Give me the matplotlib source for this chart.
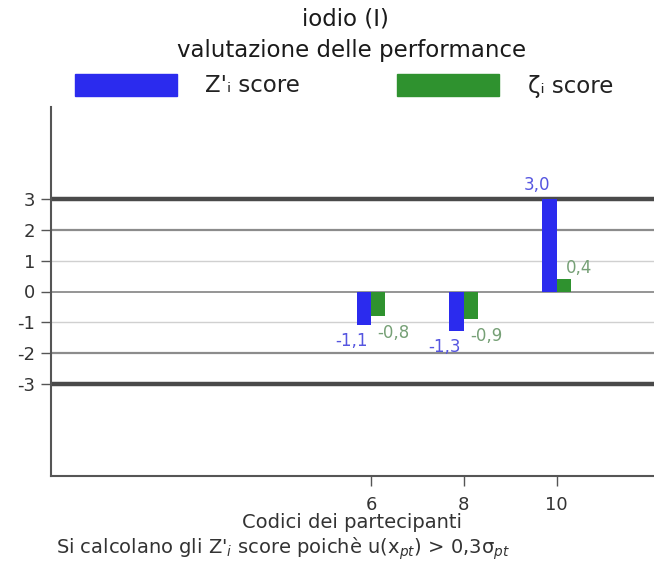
import matplotlib
matplotlib.use("Agg")
import matplotlib.pyplot as plt
from matplotlib.patches import Rectangle

# Participant codes and their scores
participants = [6, 8, 10]
z_prime = [-1.1, -1.3, 3.0]
zeta = [-0.8, -0.9, 0.4]
y_ticks = [-3, -2, -1, 0, 1, 2, 3]

title_lines = ["iodio (I)", "valutazione delle performance"]
legend_labels = ["Z'\u1d62 score", "\u03b6\u1d62 score"]
x_label = "Codici dei partecipanti"
footnote = r"Si calcolano gli Z'$_i$ score poichè u(x$_{pt}$) > 0,3σ$_{pt}$"

blue = "#2b2bee"
green = "#2f922f"
blue_txt = "#5555e0"
green_txt = "#76a076"
txt = "#333333"

plt.rcParams["font.family"] = ["DejaVu Sans"]

W, H = 654, 569
fig = plt.figure(figsize=(W / 100, H / 100), dpi=100)
ax = fig.add_axes([51 / W, 1 - 476 / H, (W - 51) / W, (476 - 107) / H])

ax.set_xlim(-0.9, 12.1)
ax.set_ylim(-6, 6)

# reference levels
for lv in y_ticks:
    a = abs(lv)
    if a == 3:
        ax.axhline(lv, color="#4a4a4a", lw=3.2, zorder=1)
    elif a == 2:
        ax.axhline(lv, color="#8c8c8c", lw=1.6, zorder=1)
    elif a == 0:
        ax.axhline(lv, color="#8c8c8c", lw=1.3, zorder=1)
    else:
        ax.axhline(lv, color="#d0d0d0", lw=1.0, zorder=1)

bw = 0.31
xs = participants
ax.bar([x - bw / 2 for x in xs], z_prime, width=bw, color=blue, zorder=3)
ax.bar([x + bw / 2 for x in xs], zeta, width=bw, color=green, zorder=3)

lab_size = 12
for x, v in zip(xs, z_prime):
    dy = 10 if v >= 0 else -11
    ax.annotate(f"{v:.1f}".replace(".", ","), (x - bw / 2, v), xytext=(-9, dy),
                textcoords="offset points", ha="center", va="center",
                color=blue_txt, fontsize=lab_size, zorder=4)
for x, v in zip(xs, zeta):
    dy = 8 if v >= 0 else -12
    ax.annotate(f"{v:.1f}".replace(".", ","), (x + bw / 2, v), xytext=(11, dy),
                textcoords="offset points", ha="center", va="center",
                color=green_txt, fontsize=lab_size, zorder=4)

for s in ["top", "right"]:
    ax.spines[s].set_visible(False)
for s in ["left", "bottom"]:
    ax.spines[s].set_color("#555555")
    ax.spines[s].set_linewidth(1.5)

ax.set_yticks(y_ticks)
ax.set_yticklabels([str(t) for t in y_ticks], fontsize=13, color=txt)
ax.set_xticks(participants)
ax.set_xticklabels([str(p) for p in participants], fontsize=13, color=txt)
ax.tick_params(axis="both", length=7.5, width=1, color="#555555")
ax.tick_params(axis="y", pad=4)
ax.tick_params(axis="x", pad=7)

fig.text(345 / W, 1 - 19 / H, title_lines[0], ha="center", va="center",
         fontsize=16.5, color="#1a1a1a")
fig.text(352 / W, 1 - 50 / H, title_lines[1], ha="center", va="center",
         fontsize=16.5, color="#1a1a1a")

# legend
fig.add_artist(Rectangle((75 / W, 1 - 96 / H), 102 / W, 22 / H, transform=fig.transFigure,
                         color=blue))
fig.add_artist(Rectangle((397 / W, 1 - 96 / H), 102 / W, 22 / H, transform=fig.transFigure,
                         color=green))
fig.text(205 / W, 1 - 86 / H, legend_labels[0], ha="left", va="center", fontsize=16.5, color="#222222")
fig.text(528 / W, 1 - 86 / H, legend_labels[1], ha="left", va="center", fontsize=16.5, color="#222222")

fig.text(352 / W, 1 - 522 / H, x_label, ha="center", va="center",
         fontsize=14, color=txt)
fig.text(56 / W, 1 - 549 / H, footnote, ha="left", va="center",
         fontsize=14, color=txt)

fig.savefig("out.png", dpi=100)
